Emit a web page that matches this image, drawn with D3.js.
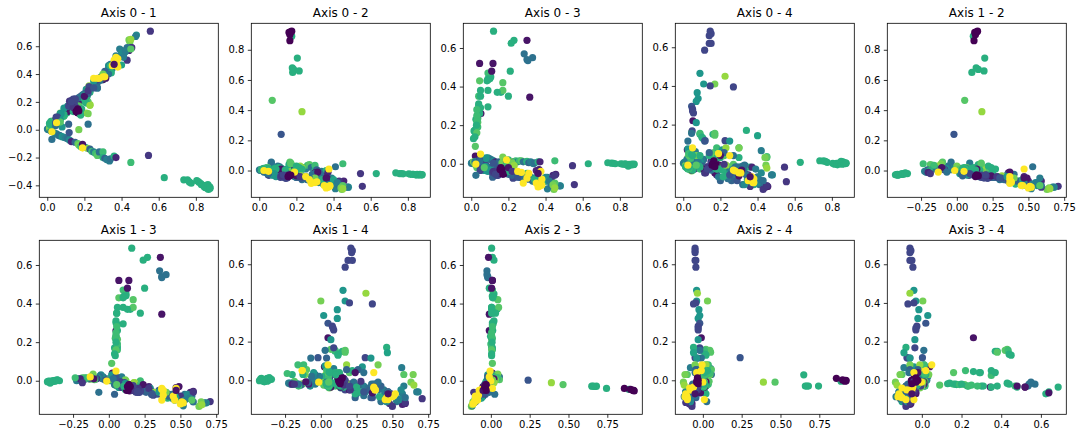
<!DOCTYPE html>
<html><head><meta charset="utf-8">
<script src="https://cdn.jsdelivr.net/npm/d3@7"></script>
<style>html,body{margin:0;padding:0;background:#fff}svg{display:block}text{font-family:"DejaVu Sans",sans-serif;fill:#000}</style>
</head><body><svg id="c" width="1082" height="438"></svg>
<script>
// every row: axis0, axis1, axis2, axis3, axis4, class
const farCluster=[
[.63,-.345,-.02,0,.005,12],[.735,-.36,-.015,.005,.013,12],[.755,-.36,-.02,.003,.012,12],[.765,-.375,-.02,.002,.01,12],
[.775,-.385,-.022,0,.005,12],[.805,-.365,-.022,0,0,12],[.815,-.375,-.025,-.002,-.005,12],[.825,-.385,-.025,-.003,0,12],
[.83,-.395,-.025,0,-.008,12],[.84,-.4,-.027,-.005,0,12],[.845,-.41,-.03,-.012,.005,12],[.85,-.415,-.025,-.003,.01,12],
[.855,-.4,-.028,-.004,-.005,12],[.86,-.42,-.03,-.006,.008,12],[.865,-.395,-.025,-.002,.004,12],[.868,-.429,-.028,-.005,-.002,12],
[.875,-.41,-.03,-.004,.002,12],[.877,-.42,-.027,-.002,0,12]];
const originCluster=[
[.001,.005,.005,.003,0,8],[.005,0,.002,.005,.005,8],[.01,.01,0,0,-.005,7],[.015,.02,.005,.005,.01,9],[.02,.03,0,0,-.02,15],
[.025,.035,-.005,-.005,.03,16],[.03,.025,0,0,.02,12],[.035,.045,-.01,-.005,-.03,4],[.04,.05,.01,.01,.04,12],[.045,.06,-.005,-.01,-.04,15],
[.05,.065,.02,-.005,.02,3],[.055,.07,-.015,-.015,-.01,11],[.06,.085,0,-.02,.03,5],[.065,.09,.05,.02,.06,8],[.022,.025,.01,.04,.07,1],
[.03,.04,.005,-.02,.055,14],[.012,.012,.005,.01,-.012,15],[.045,.052,-.015,-.025,.01,13],[.025,.03,.015,.012,.075,10],[.06,.075,-.02,-.028,-.03,5]];
const lowerBranch=[
[.02,-.01,.01,.01,.02,8],[.04,-.025,.015,.005,-.01,9],[.05,-.03,.02,.01,.02,8],[.06,-.04,.03,.01,-.02,8],[.065,-.04,.055,.02,.03,7],
[.07,-.045,.005,.01,-.015,7],[.08,-.05,.015,.02,.04,10],[.09,-.055,.02,.03,.02,9],[.1,-.06,.03,.025,0,8],[.11,-.065,.025,.02,.02,7],
[.12,-.075,.015,.015,-.03,9],[.13,-.085,.005,.01,-.02,2],[.15,-.09,.01,.01,-.01,6],[.165,-.1,.055,.005,.055,14],[.17,-.11,.045,.035,.03,15],
[.18,-.12,.02,.01,.08,13],[.19,-.13,.005,.01,.05,19],[.2,-.125,.02,.02,.03,12],[.21,-.13,0,.01,-.02,11],[.22,-.135,.03,.01,-.02,16],
[.23,-.14,.01,.01,-.025,6],[.24,-.155,.02,.015,-.03,13],[.25,-.16,.01,.01,-.02,8],[.26,-.17,.035,.015,-.02,13],[.27,-.185,.04,.015,-.005,14],
[.28,-.16,.02,.01,-.02,7],[.3,-.16,.035,.012,.08,13],[.3,-.2,0,.01,.03,12],[.31,-.205,.005,.005,-.02,6],[.32,-.215,-.01,.01,-.015,8],
[.335,-.225,-.005,0,-.015,8],[.34,-.21,-.01,.005,-.02,7],[.36,-.19,0,.01,-.02,12],[.37,-.2,-.012,.01,-.02,2],[.45,-.235,.045,.015,.035,13],
[.545,-.185,-.02,-.01,-.02,3],[.17,0,.03,.005,.41,15],[.22,.04,0,-.02,-.01,7],[.19,-.105,.02,.01,-.008,1]];
const topCluster=[
[.175,.115,.89,-.045,-.005,12],[.17,.14,.92,-.05,0,0],[.165,.13,.9,-.045,.002,0],[.16,.125,.915,-.05,-.005,0],[.175,.145,.923,-.053,-.002,0],[.165,.12,.86,-.04,.01,0],
[.18,.105,.65,-.028,.028,12],[.178,.135,.68,-.028,-.03,12],[.185,.15,.67,-.03,-.03,12],[.215,.19,.66,-.028,-.03,12],[.205,.195,.745,-.04,-.03,12],
[.07,.055,.465,-.02,-.01,14],[.23,.175,.39,-.01,-.01,16],[.118,-.02,.24,.003,.117,5]];
const a3Rise=[
[.022,.02,.01,.09,-.025,14],[.012,.045,.005,.13,-.018,12],[.025,.06,.01,.16,-.02,13],[.02,.06,.005,.175,-.022,12],[.015,.04,.01,.17,-.02,12],
[.035,.06,0,.19,-.022,13],[.035,.06,.005,.215,-.022,14],[.025,.05,-.002,.23,-.03,12],[.035,.05,.005,.235,-.03,13],[.09,.1,.015,.295,.04,12],
[.04,.05,.01,.3,-.03,12],[.04,.05,.02,.31,-.03,12],[.04,.055,.01,.35,.025,13],[.16,.15,.04,.37,.15,12],[.09,.1,.005,.38,.15,12],
[.17,.17,.05,.38,.145,14],[.17,.17,.045,.42,.155,14],[.045,.07,.02,.43,.16,14],[.09,.1,.01,.435,.155,13],[.1,.12,.015,.44,.135,12],
[.105,.12,.02,.45,.13,12],[.09,.1,.01,.47,-.03,13],[.21,.25,-.01,.48,-.035,12],[.2,.22,.03,.35,.05,12],[.12,.16,.005,.687,-.035,12],
[.23,.27,.01,.64,-.06,12],[.215,.24,.02,.625,-.07,12],[.3,.36,-.015,.64,-.065,1],[.285,.355,-.025,.57,-.02,7],[.3,.37,-.02,.54,-.02,7],
[.305,.37,-.02,.535,-.03,7],[.33,.4,-.025,.55,-.01,7],[.045,.07,.01,.52,-.035,1],[.117,.14,.01,.52,-.035,1],[.11,.13,.005,.48,-.03,1],
[.052,.05,-.01,.26,.22,1],[.315,.37,-.01,.345,-.035,1],[.14,.13,.005,.37,.04,12],
[.09,.11,.01,.44,-.02,12],[.085,.1,.012,.43,-.015,12],[.05,.06,.005,.38,-.03,12],[.05,.055,.005,.35,-.035,12],
[.03,.05,.005,.16,.04,14],[.03,.045,.01,.22,.05,13],[.045,.06,.012,.26,.045,12],[.05,.06,.01,.29,.04,12],
[.02,.04,.005,.14,-.015,12],[.03,.05,.005,.25,-.025,13],[.03,.055,.01,.28,-.03,13],[.028,.05,.008,.2,-.02,12]];
const a4Rise=[
[.09,.155,-.04,-.04,.465,10],[.11,.17,-.04,-.03,.41,10],[.145,.2,-.045,-.04,.4,4],[.27,.36,-.06,-.07,.395,4],[.225,.315,-.035,-.06,.45,16],
[.075,.115,-.025,-.015,.365,10],[.08,.02,-.02,.03,.335,10],[.07,.115,-.03,-.02,.32,10],[.045,.05,-.02,.02,.295,5],[.05,.08,-.03,-.025,.28,4],
[.05,.085,-.03,-.03,.27,4],[.055,.09,-.03,-.03,.26,4],[.07,.07,-.03,-.035,.21,10],[.048,.09,-.02,-.035,.168,4],[.045,.03,-.02,.01,.155,7],
[.025,-.07,-.01,-.06,.115,7],[.115,.04,-.035,-.07,.115,6],[.225,.31,-.05,-.075,.117,4],[.25,.35,-.04,-.06,.115,10],[.34,.46,-.06,-.08,.17,12],
[.4,.465,-.06,-.09,.143,11],[.42,.565,-.08,-.09,.065,8],[.3,.4,-.05,-.06,.08,15],[.45,.58,-.1,-.1,.03,14],[.44,.645,-.115,-.11,.03,15],
[.14,.18,-.04,-.02,.055,6],[.22,.26,-.045,-.06,.055,6],[.27,.3,-.05,-.065,.04,7],[.45,.65,-.12,-.125,-.025,16],[.145,.21,-.05,-.06,.683,4],
[.15,.22,-.05,-.055,.67,4],[.14,.215,-.05,-.06,.66,4],[.14,.19,-.05,-.06,.62,4],[.15,.22,-.045,-.05,.62,4],[.115,.17,-.045,-.045,.585,4]];
const upperBranch=[
[.555,.708,-.105,-.108,-.095,3],[.48,.68,-.11,-.115,-.06,9],[.475,.67,-.11,-.115,-.06,8],[.445,.63,-.125,-.133,-.01,15],[.455,.59,-.07,-.055,-.12,2],
[.44,.57,-.08,-.06,-.125,2],[.4,.57,-.09,-.09,-.07,8],[.39,.58,-.05,-.08,-.03,8],[.42,.56,-.1,-.09,-.05,9],[.41,.53,.025,-.07,-.11,7],
[.43,.5,-.07,-.08,-.135,3],[.38,.46,-.1,-.1,-.11,11],[.36,.48,-.09,-.08,-.12,3],[.35,.44,-.07,-.07,-.08,8],[.33,.44,-.07,-.09,-.05,8],
[.32,.42,-.08,-.07,-.11,7],[.31,.4,-.06,-.06,-.05,7],[.3,.36,-.065,-.05,-.04,13],[.28,.36,-.05,-.06,-.07,8],[.26,.35,-.06,-.05,-.09,6],
[.24,.31,-.05,-.06,-.05,9],[.23,.3,-.06,-.07,-.07,7],[.22,.28,-.045,-.03,-.02,2],[.21,.29,-.04,-.04,.07,10],[.2,.24,-.045,-.05,-.09,6],
[.19,.22,0,0,-.03,13],[.18,.24,-.03,-.03,-.06,3],[.22,.2,0,-.03,.04,14],[.23,.18,.02,-.01,.08,16],[.21,.12,.01,0,-.03,16],
[.22,.115,.01,.005,-.01,15],[.14,.22,-.035,-.05,-.03,4],[.13,.21,-.035,-.045,-.02,5],[.125,.2,-.03,-.06,-.02,3],[.115,.17,-.02,-.05,-.05,4],
[.11,.16,-.02,-.03,-.03,3],[.1,.14,-.015,-.025,.02,8],[.09,.13,-.02,-.02,.01,10],[.08,.11,-.01,-.01,-.02,4],[.07,.12,-.01,-.02,.04,15],
[.06,.08,-.005,-.005,-.03,4],[.16,.18,-.01,-.02,-.02,15],[.15,.16,-.02,-.03,.01,2],[.17,.2,-.03,-.055,-.05,1],[.12,.14,-.01,-.035,-.04,7],
[.27,.3,-.055,-.07,-.03,8],[.29,.36,-.07,-.06,-.09,5],[.33,.46,-.08,-.075,-.11,9],[.345,.41,-.09,-.09,-.085,12],[.4,.55,-.08,-.07,-.1,9],
[.41,.52,-.12,-.13,-.085,8],[.365,.49,-.05,-.03,-.07,1],[.45,.59,-.11,-.06,-.115,3],[.35,.47,-.04,-.035,-.06,2],
[.26,.33,-.06,-.07,-.04,7],[.25,.31,-.055,-.065,-.06,8],[.24,.3,-.05,-.055,-.08,7],[.27,.34,-.06,-.06,-.05,6],[.29,.38,-.065,-.07,-.02,7],
[.31,.42,-.07,-.08,-.03,6],[.34,.47,-.08,-.09,-.06,7],[.37,.53,-.09,-.1,-.1,8],[.43,.59,-.1,-.11,-.09,7],[.2,.26,-.045,-.055,-.03,6],
[.19,.25,-.04,-.05,-.07,8],[.17,.23,-.03,-.04,-.01,7],[.15,.21,-.03,-.035,-.035,7],[.1,.15,-.015,-.02,-.015,6],[.08,.12,-.01,-.015,.005,8]];
const darkMarks=[
[.2,.24,-.035,-.02,.04,1],[.12,.205,-.035,-.04,-.05,3],[.22,.28,-.04,-.04,-.005,3],
[.15,.17,-.03,-.025,0,4],[.14,.16,-.035,-.05,-.025,3],[.13,.2,-.03,-.055,-.03,4],[.25,.3,-.05,-.07,-.06,5]];
const yellowMarks=[
[.37,.52,-.11,-.115,-.07,19],[.38,.51,-.105,-.11,-.08,19],[.36,.5,-.115,-.12,-.085,19],[.375,.47,.01,-.04,-.1,19],[.35,.46,-.1,-.1,-.09,19],
[.28,.37,-.085,-.1,-.04,19],[.3,.38,-.08,-.075,-.05,19],[.31,.38,-.075,-.05,-.05,19],[.27,.37,-.06,-.045,-.035,19],[.19,-.13,-.01,.02,.05,19],
[.025,-.015,0,-.002,-.01,19],[.05,.05,-.005,.05,.08,19],[.25,.37,-.04,-.04,.04,19],[.38,.45,-.1,-.08,-.1,19]];
const lastMarks=[
[.36,.47,-.05,-.05,-.07,1],[.16,.14,-.03,-.02,0,0],[.165,.15,-.035,-.03,.012,0],[.155,.13,-.04,-.03,-.01,0],[.17,.135,-.03,-.05,-.018,0]];
const groups=[farCluster,originCluster,lowerBranch,upperBranch,a3Rise,a4Rise,topCluster,darkMarks,yellowMarks,lastMarks];
const points=groups.flat();

const axisPairs=[[0,1],[0,2],[0,3],[0,4],[1,2],[1,3],[1,4],[2,3],[2,4],[3,4]];
const titles=axisPairs.map(p=>`Axis ${p[0]} - ${p[1]}`);
const xTicks=[[0,.2,.4,.6,.8],[-.25,0,.25,.5,.75],[0,.25,.5,.75],[0,.2,.4,.6]];
const yTicks=[null,[-.4,-.2,0,.2,.4,.6],[0,.2,.4,.6,.8],[0,.2,.4,.6],[0,.2,.4,.6]];
const xFormats=[".1f",".2f",".2f",".1f"];

const panelW=179,panelH=174,stepX=212,rowTops=[23.3,240.3],left0=39.3,classMax=19;
const color=d3.scaleSequential(d3.interpolateViridis).domain([0,classMax]);
const svg=d3.select("#c");
const domainOf=i=>{const [a,b]=d3.extent(points,p=>p[i]);const m=(b-a)*.05;return [a-m,b+m];};

axisPairs.forEach(([ix,iy],k)=>{
  const L=left0+stepX*(k%5),T=rowTops[Math.floor(k/5)];
  const x=d3.scaleLinear().domain(domainOf(ix)).range([0,panelW]);
  const y=d3.scaleLinear().domain(domainOf(iy)).range([panelH,0]);
  const g=svg.append("g").attr("transform",`translate(${L},${T})`);
  g.selectAll("circle").data(points).join("circle")
    .attr("cx",d=>x(d[ix])).attr("cy",d=>y(d[iy])).attr("r",3.6).attr("fill",d=>color(d[5]));
  const ax=g.append("g").attr("transform",`translate(0,${panelH})`)
    .call(d3.axisBottom(x).tickValues(xTicks[ix]).tickFormat(d3.format(xFormats[ix])).tickSize(3.5).tickPadding(3.5));
  const ay=g.append("g")
    .call(d3.axisLeft(y).tickValues(yTicks[iy]).tickFormat(d3.format(".1f")).tickSize(3.5).tickPadding(3.5));
  [ax,ay].forEach(a=>{
    a.select(".domain").remove();
    a.selectAll("line").attr("stroke","#000").attr("stroke-width",.8);
    a.selectAll("text").style("font-size","10px").style("font-family",'"DejaVu Sans"').attr("fill","#000");
  });
  g.append("rect").attr("width",panelW).attr("height",panelH).attr("fill","none").attr("stroke","#000").attr("stroke-width",.8);
  g.append("text").attr("x",panelW/2).attr("y",-6).attr("text-anchor","middle").style("font-size","12px").text(titles[k]);
});
</script></body></html>
